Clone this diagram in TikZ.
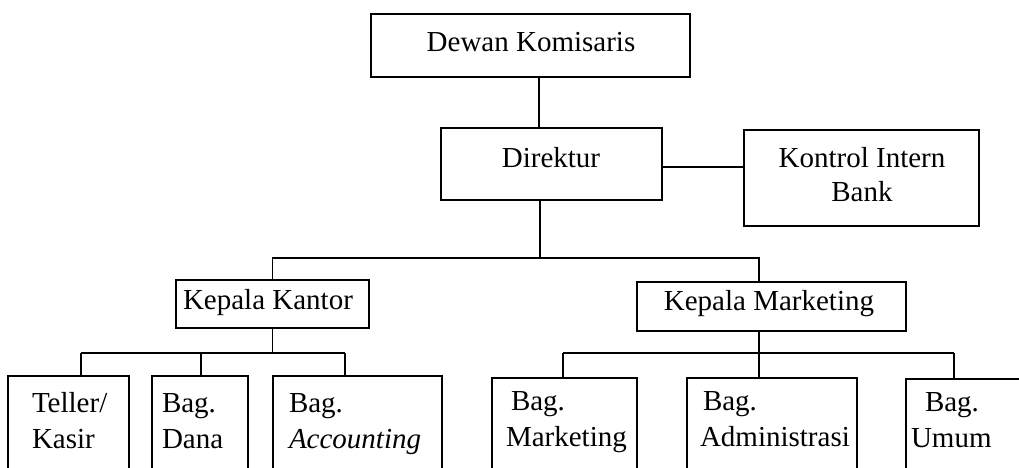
\documentclass[tikz,border=0pt]{standalone}
\usepackage{fontspec}
\setmainfont{Liberation Serif}
\begin{document}
\begin{tikzpicture}[x=1pt,y=-1pt,line width=1.5pt,
  box/.style={draw,inner sep=0pt,outer sep=0pt,anchor=north west},
  lbl/.style={inner sep=0pt,outer sep=0pt,font=\fontsize{29}{36}\selectfont},
  lblk/.style={inner sep=0pt,outer sep=0pt,font=\fontsize{29}{34}\selectfont}]
\useasboundingbox (0,0) rectangle (1019,468);
\begin{scope}
\clip (0,0) rectangle (1019,468);
% boxes
\node[box,minimum width=319pt,minimum height=63pt] (dewan) at (371,14) {};
\node[box,minimum width=221pt,minimum height=72pt] (dir) at (441,128) {};
\node[box,minimum width=235pt,minimum height=96pt] (kon) at (744,130) {};
\node[box,minimum width=193pt,minimum height=48pt] (kk) at (176,280) {};
\node[box,minimum width=269pt,minimum height=49pt] (km) at (637,282) {};
\node[box,minimum width=121pt,minimum height=120pt] (teller) at (8,376) {};
\node[box,minimum width=96pt,minimum height=120pt] (dana) at (152,376) {};
\node[box,minimum width=169pt,minimum height=120pt] (acc) at (273,376) {};
\node[box,minimum width=145pt,minimum height=120pt] (mkt) at (492,378) {};
\node[box,minimum width=170pt,minimum height=120pt] (adm) at (687,378) {};
\node[box,minimum width=150pt,minimum height=120pt] (umum) at (906,379) {};
% texts
\node[lbl,anchor=base] (tdewan) at (531,52) {Dewan Komisaris};
\node[lbl,anchor=base] (tdir) at (551,167) {Direktur};
\node[lblk,anchor=base] (tkon) at (862,167) {\begin{tabular}[t]{@{}c@{}}Kontrol Intern\\Bank\end{tabular}};
\node[lbl,anchor=base] (tkk) at (268,309) {Kepala Kantor};
\node[lbl,anchor=base] (tkm) at (769,310) {Kepala Marketing};
\node[lbl,anchor=base west] (tteller) at (32,412) {\begin{tabular}[t]{@{}l@{}}Teller/\\Kasir\end{tabular}};
\node[lbl,anchor=base west] (tdana) at (162,412) {\begin{tabular}[t]{@{}l@{}}Bag.\\Dana\end{tabular}};
\node[lbl,anchor=base west] (tacc) at (289,412) {\begin{tabular}[t]{@{}l@{}}Bag.\\\textit{Accounting}\end{tabular}};
\node[lbl,anchor=base west] (tmkt) at (506,410) {\begin{tabular}[t]{@{}l@{}}\hspace*{5pt}Bag.\\Marketing\end{tabular}};
\node[lbl,anchor=base west] (tadm) at (700,410) {\begin{tabular}[t]{@{}l@{}}\hspace*{3pt}Bag.\\Administrasi\end{tabular}};
\node[lbl,anchor=base west] (tumum) at (911,411) {\begin{tabular}[t]{@{}l@{}}\hspace*{14pt}Bag.\\Umum\end{tabular}};
% helper coordinates
\coordinate (xdw) at (539,0);
\coordinate (j1) at (540,258);
\coordinate (xkm) at (759,0);
\coordinate (j2) at (272,353);
\coordinate (j3) at (759,353);
\coordinate (xt) at (81,0);
\coordinate (xd) at (201,0);
\coordinate (xa) at (345,0);
\coordinate (xm) at (563,0);
\coordinate (xu) at (954,0);
% connectors
\draw (xdw |- dewan.south) -- (xdw |- dir.north);
\draw ([yshift=-3pt]dir.east) -- ([yshift=-3pt]dir.east -| kon.west);
\draw (j1 |- dir.south) -- (j1);
\draw (kk.north) -- (kk.north |- j1) -- (xkm |- j1) -- (xkm |- km.north);
% kepala kantor group
\draw (kk.south) -- (kk.south |- j2);
\draw (xt |- j2) -- (xa |- j2);
\draw (xt |- j2) -- (xt |- teller.north);
\draw (xd |- j2) -- (xd |- dana.north);
\draw (xa |- j2) -- (xa |- acc.north);
% kepala marketing group
\draw (xkm |- km.south) -- (xkm |- adm.north);
\draw (xm |- j3) -- (xu |- j3);
\draw (xm |- j3) -- (xm |- mkt.north);
\draw (xu |- j3) -- (xu |- umum.north);
\end{scope}
\end{tikzpicture}
\end{document}
